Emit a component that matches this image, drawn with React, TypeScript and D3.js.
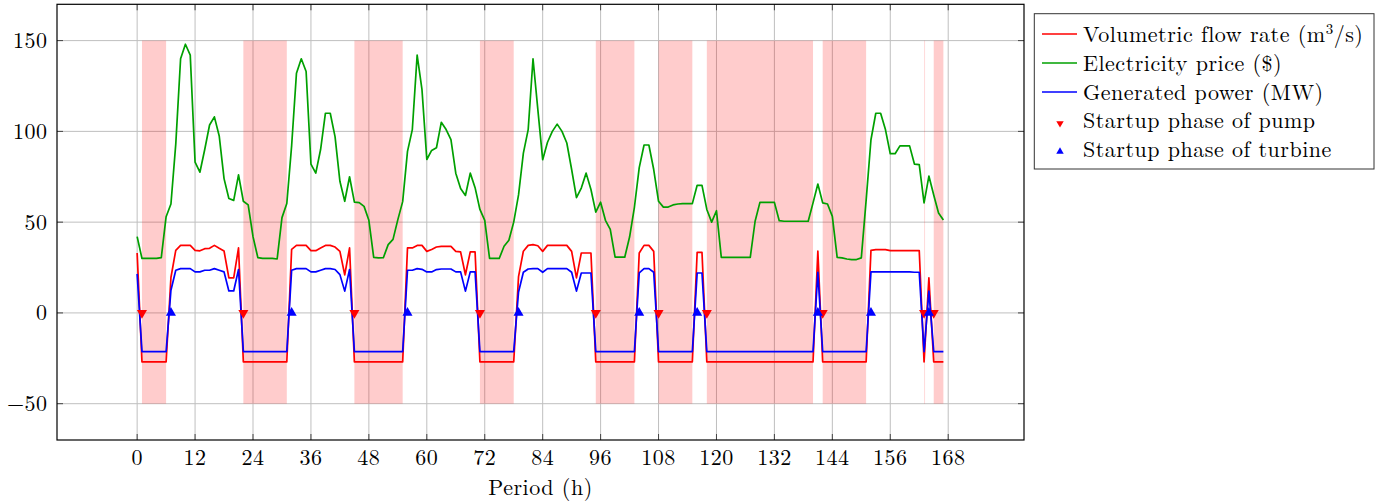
import React from "react";
import * as d3 from "d3";

// Hourly series, hours 0..167
const FLOW_RATE = [
  33, -27, -27, -27, -27, -27, -27, 19.5, 34.5, 37.2, 37.2, 37.2, 34.5, 34.2, 35.4, 35.6, 37.2, 35.6, 34.1, 19.3, 19.3, 35.8,
  -27, -27, -27, -27, -27, -27, -27, -27, -27, -27,
  35, 37.2, 37.2, 37.2, 34.3, 34.3, 35.8, 37.2, 37.2, 36.3, 33.9, 21, 35.8,
  -27, -27, -27, -27, -27, -27, -27, -27, -27, -27, -27,
  35.8, 35.8, 37.2, 37.2, 33.9, 34.9, 36.3, 36.7, 36.7, 36.7, 33.9, 33.6, 21, 33.6, 33.6,
  -27, -27, -27, -27, -27, -27, -27, -27,
  20, 34, 37.2, 37.6, 37, 33.9, 37.2, 37.2, 37.2, 37.2, 37.2, 33.9, 19.3, 33, 33, 33,
  -27, -27, -27, -27, -27, -27, -27, -27, -27,
  33, 37.2, 37.2, 33.9,
  -27, -27, -27, -27, -27, -27, -27, -27,
  33.4, 33.4,
  -27, -27, -27, -27, -27, -27, -27, -27, -27, -27, -27, -27, -27, -27, -27, -27, -27, -27, -27, -27, -27, -27, -27,
  34,
  -27, -27, -27, -27, -27, -27, -27, -27, -27, -27,
  34.5, 34.9, 34.9, 34.9, 34.3, 34.3, 34.3, 34.3, 34.3, 34.3, 34.3,
  -27, 19.3, -27, -27, -27,
];

const PRICE = [
  42, 30, 30, 30, 30, 30.5, 53, 60, 93, 140, 148, 142, 83, 77.5, 90, 103.5, 108, 97.5, 74, 63, 62, 76,
  61.5, 59.5, 42, 30.5, 30, 30, 30, 29.7, 52.5, 60.3,
  92, 132, 140, 133, 82, 77, 90, 110, 110, 97, 72.5, 61.5, 75,
  61, 60.8, 58.7, 51, 30.6, 30.3, 30.4, 37.6, 40.5, 51.4, 61.3,
  89, 101, 142, 123, 84.5, 89.5, 91, 105, 101, 95.4, 77, 68.5, 64.7, 77, 69,
  57, 51, 30, 30, 30, 36.7, 40, 50,
  65, 88, 101, 140, 112, 84.4, 94, 100, 104, 100, 93.6, 79, 63.5, 68.8, 77, 68,
  55.5, 61, 51, 46, 30.7, 30.7, 30.7, 41.8, 58.2,
  80, 92.5, 92.5, 79,
  61.5, 58.3, 58.3, 59.5, 60, 60.2, 60.2, 60.2,
  70.3, 70.3,
  57, 50, 56.3, 30.6, 30.6, 30.6, 30.6, 30.6, 30.6, 30.6, 50.5, 60.9, 60.9, 60.9, 60.9, 50.8, 50.5, 50.5, 50.5, 50.5, 50.5, 50.5, 60.6,
  71,
  60.6, 60, 53.2, 30.6, 30.3, 29.7, 29.4, 29.4, 30.3, 62,
  95.4, 110, 110, 101, 87.7, 87.7, 92, 92, 92, 82, 81.7,
  60.6, 75.4, 65, 55, 51.2,
];

const POWER = [
  21.5, -21.3, -21.3, -21.3, -21.3, -21.3, -21.3, 12.5, 23.5, 24.4, 24.4, 24.4, 22.6, 22.6, 23.5, 23.5, 24.4, 23.5, 22.6, 12.1, 12.1, 23.9,
  -21.3, -21.3, -21.3, -21.3, -21.3, -21.3, -21.3, -21.3, -21.3, -21.3,
  23.5, 24.4, 24.4, 24.4, 22.6, 22.6, 23.5, 24.4, 24.4, 23.9, 21.1, 12, 23.9,
  -21.3, -21.3, -21.3, -21.3, -21.3, -21.3, -21.3, -21.3, -21.3, -21.3, -21.3,
  23.5, 23.5, 24.4, 24, 22.6, 22.6, 23.9, 24.2, 24.2, 24.2, 22.6, 22.6, 12, 22.6, 22.6,
  -21.3, -21.3, -21.3, -21.3, -21.3, -21.3, -21.3, -21.3,
  11.5, 22.4, 24.2, 24.4, 24.4, 22.4, 24.4, 24.4, 24.4, 24.4, 24.4, 22.4, 12, 22, 22, 22,
  -21.3, -21.3, -21.3, -21.3, -21.3, -21.3, -21.3, -21.3, -21.3,
  22, 24.4, 24.4, 22.4,
  -21.3, -21.3, -21.3, -21.3, -21.3, -21.3, -21.3, -21.3,
  22, 22,
  -21.3, -21.3, -21.3, -21.3, -21.3, -21.3, -21.3, -21.3, -21.3, -21.3, -21.3, -21.3, -21.3, -21.3, -21.3, -21.3, -21.3, -21.3, -21.3, -21.3, -21.3, -21.3, -21.3,
  22.4,
  -21.3, -21.3, -21.3, -21.3, -21.3, -21.3, -21.3, -21.3, -21.3, -21.3,
  22.6, 22.6, 22.6, 22.6, 22.6, 22.6, 22.6, 22.6, 22.6, 22.4, 22.4,
  -21.3, 12, -21.3, -21.3, -21.3,
];

const PUMP_PERIODS: [number, number][] = [
  [1, 6], [22, 31], [45, 55], [71, 78], [95, 103], [108, 115], [118, 140], [142, 151], [163, 163], [165, 167],
];
const PUMP_STARTS = [1, 22, 45, 71, 95, 108, 118, 142, 163, 165];
const TURBINE_STARTS = [7, 32, 56, 79, 104, 116, 141, 152, 164];

const X_TICKS = [0, 12, 24, 36, 48, 60, 72, 84, 96, 108, 120, 132, 144, 156, 168];
const Y_TICKS = [-50, 0, 50, 100, 150];

const X_DOMAIN: [number, number] = [-16.6, 183.7];
const Y_DOMAIN: [number, number] = [-70, 170];
const SHADE_RANGE: [number, number] = [-50, 150];

const C_RED = "#ff0000";
const C_GREEN = "#00a000";
const C_BLUE = "#0000ff";

const FONT = "'Latin Modern Roman', 'Liberation Serif', 'Times New Roman', serif";

export default function App() {
  const W = 1385, H = 503;
  const L = 57, R = 1024, T = 4.3, B = 440;
  const x = d3.scaleLinear().domain(X_DOMAIN).range([L, R]);
  const y = d3.scaleLinear().domain(Y_DOMAIN).range([B, T]);
  const hours = d3.range(FLOW_RATE.length);

  const mk = (vals: number[]) =>
    d3.line<number>().x((i) => x(i)).y((i) => y(vals[i]))(hours) || "";

  const tri = d3.symbol().type(d3.symbolTriangle).size(44)() || "";
  const triSmall = d3.symbol().type(d3.symbolTriangle).size(24)() || "";

  const legendX = 1034.3, legendY = 13.7, legendW = 339.7, legendH = 155.3;
  const rows = [41.5, 70.5, 99.5, 128.3, 157];
  const LS = 0.5;

  return (
    <div style={{ position: "absolute", left: 0, top: 0 }}>
      <svg width={W} height={H} style={{ display: "block", fontFamily: FONT }}>
        <rect x={0} y={0} width={W} height={H} fill="#fff" />
        {/* grid */}
        {X_TICKS.map((t) => (
          <line key={"gx" + t} x1={x(t)} x2={x(t)} y1={T} y2={B} stroke="#bfbfbf" strokeWidth={1} />
        ))}
        {Y_TICKS.map((t) => (
          <line key={"gy" + t} x1={L} x2={R} y1={y(t)} y2={y(t)} stroke="#bfbfbf" strokeWidth={1} />
        ))}
        {/* pump periods shading */}
        {PUMP_PERIODS.map(([a, b], i) => (
          <rect
            key={"sh" + i}
            x={x(a)}
            y={y(SHADE_RANGE[1])}
            width={Math.max(x(b) - x(a), 1)}
            height={y(SHADE_RANGE[0]) - y(SHADE_RANGE[1])}
            fill={C_RED}
            fillOpacity={b > a ? 0.2 : 0.15}
          />
        ))}
        {/* ticks inside frame */}
        {X_TICKS.map((t) => (
          <g key={"tx" + t}>
            <line x1={x(t)} x2={x(t)} y1={B} y2={B - 6} stroke="#444" strokeWidth={1} />
            <line x1={x(t)} x2={x(t)} y1={T} y2={T + 6} stroke="#444" strokeWidth={1} />
          </g>
        ))}
        {Y_TICKS.map((t) => (
          <g key={"ty" + t}>
            <line x1={L} x2={L + 6} y1={y(t)} y2={y(t)} stroke="#444" strokeWidth={1} />
            <line x1={R} x2={R - 6} y1={y(t)} y2={y(t)} stroke="#444" strokeWidth={1} />
          </g>
        ))}
        {/* lines */}
        <path d={mk(FLOW_RATE)} fill="none" stroke={C_RED} strokeWidth={1.7} strokeLinejoin="round" />
        <path d={mk(PRICE)} fill="none" stroke={C_GREEN} strokeWidth={1.7} strokeLinejoin="round" />
        <path d={mk(POWER)} fill="none" stroke={C_BLUE} strokeWidth={1.7} strokeLinejoin="round" />
        {/* markers */}
        {PUMP_STARTS.map((h) => (
          <path key={"ps" + h} d={tri} transform={`translate(${x(h)},${y(0)}) rotate(180)`} fill={C_RED} />
        ))}
        {TURBINE_STARTS.map((h) => (
          <path key={"ts" + h} d={tri} transform={`translate(${x(h)},${y(0)})`} fill={C_BLUE} />
        ))}
        {/* frame */}
        <rect x={L} y={T} width={R - L} height={B - T} fill="none" stroke="#000" strokeWidth={1.2} />
        {/* tick labels */}
        {X_TICKS.map((t) => (
          <text key={"lx" + t} x={x(t)} y={465} textAnchor="middle" fontSize={22} letterSpacing={LS}>
            {t}
          </text>
        ))}
        {Y_TICKS.map((t) => (
          <text key={"ly" + t} x={47.5} y={y(t) + 7.5} textAnchor="end" fontSize={22} letterSpacing={LS}>
            {t < 0 ? "\u2212" + Math.abs(t) : t}
          </text>
        ))}
        <text x={(L + R) / 2} y={495} textAnchor="middle" fontSize={22} letterSpacing={LS}>
          Period (h)
        </text>
        {/* legend */}
        <rect x={legendX} y={legendY} width={legendW} height={legendH} fill="#fff" stroke="#333" strokeWidth={1} />
        <line x1={1042} x2={1077} y1={rows[0] - 7.5} y2={rows[0] - 7.5} stroke={C_RED} strokeWidth={1.7} />
        <line x1={1042} x2={1077} y1={rows[1] - 7.5} y2={rows[1] - 7.5} stroke={C_GREEN} strokeWidth={1.7} />
        <line x1={1042} x2={1077} y1={rows[2] - 7.5} y2={rows[2] - 7.5} stroke={C_BLUE} strokeWidth={1.7} />
        <path d={triSmall} transform={`translate(1060,${rows[3] - 5}) rotate(180)`} fill={C_RED} />
        <path d={triSmall} transform={`translate(1060,${rows[4] - 5.5})`} fill={C_BLUE} />
        <g fontSize={22} letterSpacing={LS}>
          <text x={1083} y={rows[0]}>
            Volumetric flow rate (m<tspan dy={-8} fontSize={15}>3</tspan><tspan dy={8}>/s)</tspan>
          </text>
          <text x={1083} y={rows[1]}>Electricity price ($)</text>
          <text x={1083} y={rows[2]}>Generated power (MW)</text>
          <text x={1083} y={rows[3]}>Startup phase of pump</text>
          <text x={1083} y={rows[4]}>Startup phase of turbine</text>
        </g>
      </svg>
    </div>
  );
}
